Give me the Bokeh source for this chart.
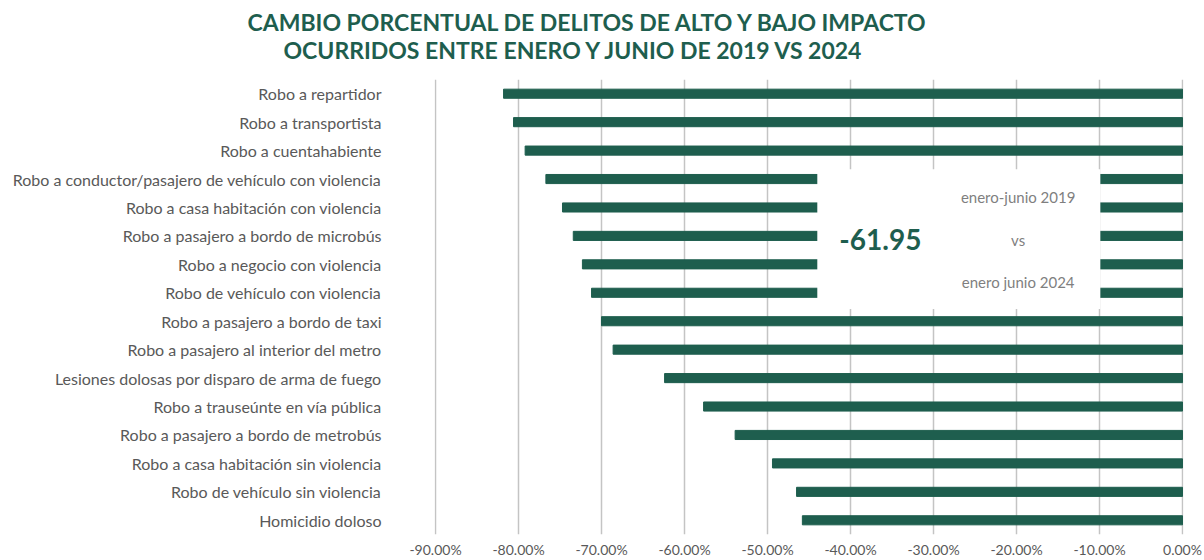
from bokeh.plotting import figure
from bokeh.models import Range1d, FixedTicker, PrintfTickFormatter, Label, Title
from bokeh.embed import file_html
from bokeh.resources import INLINE

categories = [
    "Robo a repartidor",
    "Robo a transportista",
    "Robo a cuentahabiente",
    "Robo a conductor/pasajero de vehículo con violencia",
    "Robo a casa habitación con violencia",
    "Robo a pasajero a bordo de microbús",
    "Robo a negocio con violencia",
    "Robo de vehículo con violencia",
    "Robo a pasajero a bordo de taxi",
    "Robo a pasajero al interior del metro",
    "Lesiones dolosas por disparo de arma de fuego",
    "Robo a trauseúnte en vía pública",
    "Robo a pasajero a bordo de metrobús",
    "Robo a casa habitación sin violencia",
    "Robo de vehículo sin violencia",
    "Homicidio doloso",
]
values = [-81.8, -80.6, -79.2, -76.7, -74.7, -73.4, -72.3, -71.2,
          -70.0, -68.6, -62.4, -57.7, -53.9, -49.4, -46.5, -45.8]
x_ticks = [-90, -80, -70, -60, -50, -40, -30, -20, -10, 0]
title_lines = ["CAMBIO PORCENTUAL DE DELITOS DE ALTO Y BAJO IMPACTO",
               "OCURRIDOS ENTRE ENERO Y JUNIO DE 2019 VS 2024"]
total_value = "-61.95"
box_texts = ["enero-junio 2019", "vs", "enero junio 2024"]

GREEN = "#1e5e4e"
GRAY = "#595959"
FONT = "Lato"

n = len(categories)
ys = [n - 0.5 - i for i in range(n)]

p = figure(width=1204, height=560, output_backend="svg", toolbar_location=None,
           x_range=Range1d(-90.12, 0.12), y_range=Range1d(0, n),
           min_border_left=434, min_border_right=21, min_border_top=79,
           min_border_bottom=25)
p.outline_line_color = None
p.background_fill_color = "white"

p.hbar(y=ys, left=values, right=0, height=0.32, color=GREEN)

# white text box overlay
p.quad(left=-44.0, right=-9.9, bottom=7.93, top=12.84,
       fill_color="white", line_color=None)

# axes
p.xaxis.ticker = FixedTicker(ticks=x_ticks)
p.xaxis.formatter = PrintfTickFormatter(format="%.2f%%")
p.xaxis.axis_line_color = None
p.xaxis.major_tick_line_color = None
p.xaxis.minor_tick_line_color = None
p.xaxis.major_tick_out = 0
p.xaxis.major_tick_in = 0
p.xaxis.minor_tick_out = 0
p.xaxis.major_label_text_font = FONT
p.xaxis.major_label_text_font_size = "14px"
p.xaxis.major_label_text_color = GRAY
p.xaxis.major_label_standoff = 6

p.yaxis.ticker = FixedTicker(ticks=ys)
p.yaxis.major_label_overrides = {y: c for y, c in zip(ys, categories)}
p.yaxis.axis_line_color = None
p.yaxis.major_tick_line_color = None
p.yaxis.minor_tick_line_color = None
p.yaxis.major_tick_out = 0
p.yaxis.major_tick_in = 0
p.yaxis.minor_tick_out = 0
p.yaxis.major_label_text_font = FONT
p.yaxis.major_label_text_font_size = "16px"
p.yaxis.major_label_text_color = GRAY
p.yaxis.major_label_standoff = 53

p.xgrid.ticker = FixedTicker(ticks=x_ticks)
p.xgrid.grid_line_color = "#c4c4c4"
p.xgrid.grid_line_width = 1.5
p.ygrid.grid_line_color = None

# titles (second line added first so it sits nearest the plot)
p.add_layout(Title(text=title_lines[1], align="left", offset=-151,
                   text_font=FONT, text_font_style="bold",
                   text_font_size="23px", text_color=GREEN, standoff=32),
             "above")
p.add_layout(Title(text=title_lines[0], align="left", offset=-187,
                   text_font=FONT, text_font_style="bold",
                   text_font_size="23px", text_color=GREEN, standoff=-36),
             "above")

p.add_layout(Label(x=-36.4, y=10.39, text=total_value, text_align="center",
                   text_baseline="middle", text_font=FONT,
                   text_font_style="bold", text_font_size="28px",
                   text_color=GREEN))
for t, y in zip(box_texts, [11.86, 10.35, 8.88]):
    p.add_layout(Label(x=-19.8, y=y, text=t, text_align="center",
                       text_baseline="middle", text_font=FONT,
                       text_font_size="15px", text_color="#7f7f7f"))

open("out.html", "w").write(file_html(p, INLINE))
